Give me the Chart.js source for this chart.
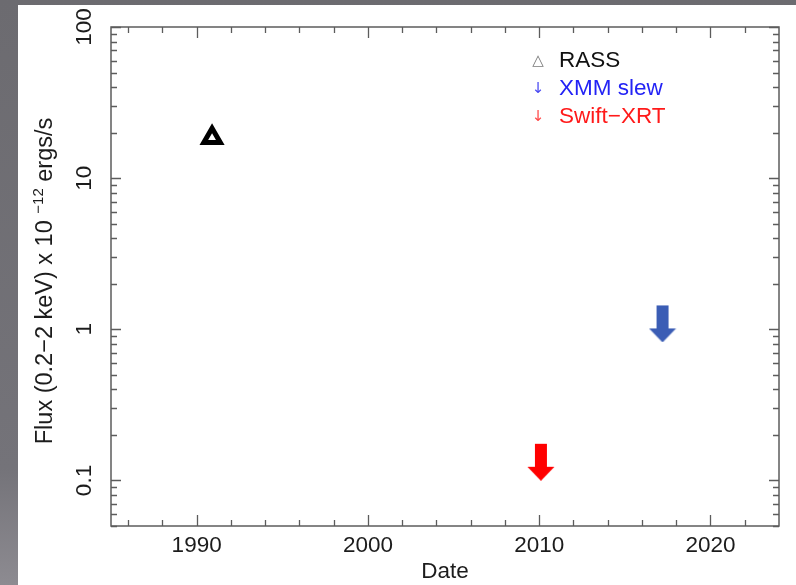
<!DOCTYPE html>
<html>
<head>
<meta charset="utf-8">
<script src="https://cdn.jsdelivr.net/npm/chart.js@4.4.1/dist/chart.umd.min.js"></script>
<style>
  html, body { margin: 0; padding: 0; background: #6e6d72; }
  canvas { display: block; }
</style>
</head>
<body>
<canvas id="fluxChart" width="796" height="585"></canvas>
<script>
// observations (date in decimal years, flux in 1e-12 erg/s)
const seriesNames = ['RASS', 'XMM slew', 'Swift−XRT'];
const rassDates = [1990.9];
const rassFlux = [18.5];
const xmmDates = [2017.2];
const xmmLimits = [1.44];
const swiftDates = [2010.1];
const swiftLimits = [0.175];
const yearTicks = [1990, 2000, 2010, 2020];
const fluxTicks = [0.1, 1, 10, 100];

const FONT = '"Liberation Sans", Arial, Helvetica, sans-serif';
const INK = '#1c1c1c';
const AXIS = '#5c5c5c';

// upper-limit marker: arrow hangs below the point (top half of canvas left empty)
function downArrow(color) {
  const c = document.createElement('canvas');
  c.width = 28;
  c.height = 74;
  const g = c.getContext('2d');
  g.fillStyle = color;
  g.fillRect(8, 37, 12, 24);
  g.beginPath();
  g.moveTo(0.5, 60);
  g.lineTo(27.5, 60);
  g.lineTo(14, 74);
  g.closePath();
  g.fill();
  return c;
}

const toPoints = (xs, ys) => xs.map((x, i) => ({ x: x, y: ys[i] }));

const backdrop = {
  id: 'backdrop',
  beforeDraw(chart) {
    const ctx = chart.ctx;
    ctx.save();
    const grad = ctx.createLinearGradient(0, 0, 0, chart.height);
    grad.addColorStop(0, '#6c6b70');
    grad.addColorStop(0.8, '#747379');
    grad.addColorStop(1, '#8d8b91');
    ctx.fillStyle = grad;
    ctx.fillRect(0, 0, chart.width, chart.height);
    ctx.fillStyle = '#ffffff';
    ctx.fillRect(18, 5, chart.width - 18, chart.height - 5);
    ctx.restore();
  }
};

// box around the plot with inward ticks on all four sides
const frame = {
  id: 'frame',
  beforeDatasetsDraw(chart) {
    const { ctx, chartArea: a, scales: { x, y } } = chart;
    ctx.save();
    ctx.strokeStyle = AXIS;
    ctx.lineWidth = 1.5;
    ctx.strokeRect(a.left, a.top, a.right - a.left, a.bottom - a.top);
    ctx.lineWidth = 1.3;
    ctx.beginPath();
    for (let yr = 1986; yr <= 2022; yr += 2) {
      const px = Math.round(x.getPixelForValue(yr)) + 0.5;
      const len = yr % 10 === 0 ? 11 : 6;
      ctx.moveTo(px, a.bottom); ctx.lineTo(px, a.bottom - len);
      ctx.moveTo(px, a.top); ctx.lineTo(px, a.top + len);
    }
    for (const dec of [0.01, 0.1, 1, 10]) {
      for (let k = 2; k <= 10; k++) {
        const v = k * dec;
        if (v < 0.05 || v > 100) continue;
        const py = Math.round(y.getPixelForValue(v)) + 0.5;
        const len = k === 10 ? 10 : 6;
        ctx.moveTo(a.left, py); ctx.lineTo(a.left + len, py);
        ctx.moveTo(a.right, py); ctx.lineTo(a.right - len, py);
      }
    }
    ctx.stroke();
    ctx.restore();
  }
};

const legendColors = [
  { sym: '△', symColor: '#7a7a7a', text: '#111111' },
  { sym: '↓', symColor: '#4a4af2', text: '#2323f5' },
  { sym: '↓', symColor: '#ff4a4a', text: '#ff1a1a' }
];

const annotations = {
  id: 'annotations',
  afterDraw(chart) {
    const ctx = chart.ctx;
    ctx.save();
    // legend inside the plot, upper right
    chart.data.datasets.forEach((ds, i) => {
      const c = legendColors[i];
      const ly = 61 + i * 28;
      ctx.textBaseline = 'middle';
      ctx.textAlign = 'center';
      ctx.font = '15px "DejaVu Sans", sans-serif';
      ctx.fillStyle = c.symColor;
      ctx.fillText(c.sym, 538, ly);
      ctx.textAlign = 'left';
      ctx.font = '22.5px ' + FONT;
      ctx.fillStyle = c.text;
      ctx.fillText(ds.label, 559, ly);
    });
    // y axis title with superscript exponent
    const parts = [
      ['Flux (0.2−2 keV) x 10 ', 23.5, 0],
      ['−12', 15, 9],
      [' ergs/s', 23.5, 0]
    ];
    let total = 0;
    parts.forEach(p => { ctx.font = p[1] + 'px ' + FONT; total += ctx.measureText(p[0]).width; });
    ctx.translate(52, 281);
    ctx.rotate(-Math.PI / 2);
    ctx.textAlign = 'left';
    ctx.textBaseline = 'alphabetic';
    ctx.fillStyle = INK;
    let tx = -total / 2;
    parts.forEach(p => {
      ctx.font = p[1] + 'px ' + FONT;
      ctx.fillText(p[0], tx, -p[2]);
      tx += ctx.measureText(p[0]).width;
    });
    ctx.restore();
  }
};

new Chart(document.getElementById('fluxChart'), {
  type: 'scatter',
  data: {
    datasets: [
      {
        label: seriesNames[0],
        data: toPoints(rassDates, rassFlux),
        pointStyle: 'triangle',
        pointRadius: 9.5,
        pointBorderWidth: 5,
        borderColor: '#000000',
        backgroundColor: '#ffffff'
      },
      {
        label: seriesNames[1],
        data: toPoints(xmmDates, xmmLimits),
        pointStyle: downArrow('#3b5db5'),
        pointRadius: 10
      },
      {
        label: seriesNames[2],
        data: toPoints(swiftDates, swiftLimits),
        pointStyle: downArrow('#ff0000'),
        pointRadius: 10
      }
    ]
  },
  options: {
    responsive: false,
    animation: false,
    layout: { padding: { top: 27, right: 17, left: 0, bottom: 0 } },
    plugins: {
      legend: { display: false },
      tooltip: { enabled: false }
    },
    scales: {
      x: {
        type: 'linear',
        min: 1985,
        max: 2024,
        grid: { display: false, drawTicks: false },
        border: { display: false },
        afterBuildTicks: s => { s.ticks = yearTicks.map(v => ({ value: v })); },
        afterFit: s => { s.height = 59; },
        ticks: {
          padding: 6,
          maxRotation: 0,
          color: INK,
          font: { family: FONT, size: 22.5 },
          callback: v => String(v)
        },
        title: {
          display: true,
          text: 'Date',
          color: INK,
          font: { family: FONT, size: 22.5 },
          padding: { top: 0, bottom: 0 }
        }
      },
      y: {
        type: 'logarithmic',
        min: 0.05,
        max: 100,
        grid: { display: false, drawTicks: false },
        border: { display: false },
        afterBuildTicks: s => { s.ticks = fluxTicks.map(v => ({ value: v })); },
        afterFit: s => { s.width = 111; },
        ticks: {
          padding: 7,
          minRotation: 90,
          maxRotation: 90,
          crossAlign: 'center',
          color: INK,
          font: { family: FONT, size: 22.5 },
          callback: v => String(v)
        }
      }
    }
  },
  plugins: [backdrop, frame, annotations]
});
</script>
</body>
</html>
